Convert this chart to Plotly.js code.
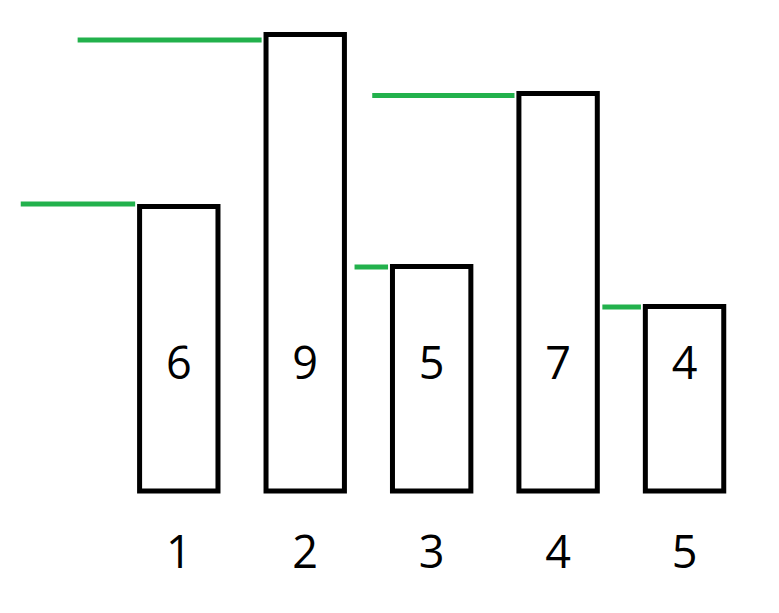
<!DOCTYPE html>
<html>
<head>
<meta charset="utf-8">
<script src="https://cdn.plot.ly/plotly-3.0.1.min.js"></script>
<style>html,body{margin:0;padding:0;background:#fff}#chart{width:779px;height:613px}</style>
</head>
<body>
<div id="chart"></div>
<script>
// Data
var categories = [1, 2, 3, 4, 5];
var tickLabels = ['1', '2', '3', '4', '5'];
var valueLabels = ['6', '9', '5', '7', '4'];
// drawn bar heights (hand-drawn in label units)
var barHeights = [5.69, 9.13, 4.49, 7.95, 3.69];
// green marker lines: level and where they start on the left
var greenLevels = [5.74, 9.02, 4.48, 7.91, 3.68];
var greenStarts = [-0.25, 0.20, 2.39, 2.53, 4.35];

var barWidth = 0.62;
var green = '#22b14c';
var font = '"Open Sans", "Noto Sans", sans-serif';

var traces = [];
traces.push({
  type: 'bar',
  x: categories,
  y: barHeights,
  width: barWidth,
  marker: {color: '#ffffff', line: {color: '#000000', width: 5}},
  hoverinfo: 'skip'
});
traces.push({
  type: 'scatter',
  mode: 'text',
  x: categories,
  y: categories.map(function () { return 2.47; }),
  text: valueLabels,
  textposition: 'middle center',
  textfont: {family: font, size: 45, color: '#000000'},
  hoverinfo: 'skip'
});
for (var i = 0; i < categories.length; i++) {
  traces.push({
    type: 'scatter',
    mode: 'lines',
    x: [greenStarts[i], categories[i] - barWidth / 2 - 0.035],
    y: [greenLevels[i], greenLevels[i]],
    line: {color: green, width: 5},
    hoverinfo: 'skip'
  });
}

var layout = {
  width: 779,
  height: 613,
  margin: {l: 0, r: 0, t: 0, b: 100},
  paper_bgcolor: '#ffffff',
  plot_bgcolor: '#ffffff',
  showlegend: false,
  xaxis: {
    range: [-0.414, 5.747],
    tickvals: categories,
    ticktext: tickLabels,
    ticks: '',
    showgrid: false,
    zeroline: false,
    showline: false,
    ticklabelstandoff: 9,
    tickfont: {family: font, size: 45, color: '#000000'}
  },
  yaxis: {
    range: [-0.44, 9.82],
    showgrid: false,
    zeroline: false,
    showline: false,
    showticklabels: false,
    ticks: ''
  }
};

Plotly.newPlot('chart', traces, layout, {displayModeBar: false, staticPlot: true});
</script>
</body>
</html>
